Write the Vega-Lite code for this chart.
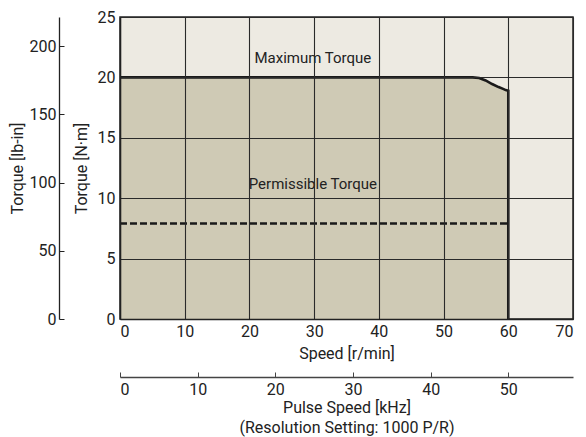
{
  "$schema": "https://vega.github.io/schema/vega-lite/v6.json",
  "width": 453,
  "height": 302,
  "autosize": {"type": "none"},
  "padding": {"left": 120, "top": 17, "right": 13, "bottom": 118},
  "background": "white",
  "config": {
    "font": "Roboto",
    "view": {"fill": "#EDEAE2", "stroke": "#222222", "strokeWidth": 1.5},
    "axis": {"labelFont": "Roboto", "titleFont": "Roboto", "labelFontSize": 16, "titleFontSize": 16, "titleFontWeight": "normal", "labelColor": "#222", "titleColor": "#222"}
  },
  "datasets": {
    "maxTorque": [
      {"speed": 0, "torque": 20},
      {"speed": 54.5, "torque": 20},
      {"speed": 55.5, "torque": 19.95},
      {"speed": 56.5, "torque": 19.75},
      {"speed": 57.5, "torque": 19.45},
      {"speed": 58.5, "torque": 19.2},
      {"speed": 59.2, "torque": 19.05},
      {"speed": 59.6, "torque": 18.95},
      {"speed": 60, "torque": 18.9},
      {"speed": 60, "torque": 0}
    ],
    "permissible": [
      {"speed": 0, "torque": 7.9},
      {"speed": 60, "torque": 7.9}
    ],
    "labels": [
      {"speed": 29.8, "torque": 21.6, "label": "Maximum Torque"},
      {"speed": 29.8, "torque": 11.2, "label": "Permissible Torque"}
    ],
    "pulse": [{"pulse": 0}, {"pulse": 58.333}],
    "lbin": [{"lbin": 0}, {"lbin": 221.27}]
  },
  "layer": [
    {
      "layer": [
        {
          "data": {"name": "maxTorque"},
          "mark": {"type": "area", "color": "#CFCAB5", "opacity": 1},
          "encoding": {
            "x": {"field": "speed", "type": "quantitative", "scale": {"domain": [0, 70], "nice": false},
              "axis": {"values": [0, 10, 20, 30, 40, 50, 60, 70], "grid": true, "gridColor": "#2a2a2a", "gridWidth": 1.1, "ticks": false, "domain": true, "domainColor": "#222", "domainWidth": 1.5, "labelPadding": 4, "title": "Speed [r/min]", "titlePadding": 6, "zindex": 1}},
            "y": {"field": "torque", "type": "quantitative", "scale": {"domain": [0, 25], "nice": false},
              "axis": {"values": [0, 5, 10, 15, 20, 25], "grid": true, "gridColor": "#2a2a2a", "gridWidth": 1.1, "ticks": false, "domain": true, "domainColor": "#222", "domainWidth": 1.5, "labelPadding": 5, "title": "Torque [N·m]", "titlePadding": 8, "zindex": 1}}
          }
        },
        {
          "data": {"name": "maxTorque"},
          "mark": {"type": "line", "color": "#1a1a1a", "strokeWidth": 2.6},
          "encoding": {
            "x": {"field": "speed", "type": "quantitative"},
            "y": {"field": "torque", "type": "quantitative"}
          }
        },
        {
          "data": {"name": "permissible"},
          "mark": {"type": "line", "color": "#1a1a1a", "strokeWidth": 2.6, "strokeDash": [7, 3]},
          "encoding": {
            "x": {"field": "speed", "type": "quantitative"},
            "y": {"field": "torque", "type": "quantitative"}
          }
        },
        {
          "data": {"name": "labels"},
          "mark": {"type": "text", "fontSize": 15, "color": "#222", "font": "Roboto"},
          "encoding": {
            "x": {"field": "speed", "type": "quantitative"},
            "y": {"field": "torque", "type": "quantitative"},
            "text": {"field": "label"}
          }
        }
      ]
    },
    {
      "data": {"name": "pulse"},
      "mark": {"type": "point", "opacity": 0},
      "encoding": {
        "x": {"field": "pulse", "type": "quantitative", "scale": {"domain": [0, 58.333], "nice": false},
          "axis": {"orient": "bottom", "offset": 58, "values": [0, 10, 20, 30, 40, 50], "grid": false, "tickSize": -5, "tickColor": "#444", "domainColor": "#444", "domainWidth": 1.3, "labelPadding": 9, "title": ["Pulse Speed [kHz]", "(Resolution Setting: 1000 P/R)"], "titlePadding": 2, "titleLineHeight": 20}}
      }
    },
    {
      "data": {"name": "lbin"},
      "mark": {"type": "point", "opacity": 0},
      "encoding": {
        "y": {"field": "lbin", "type": "quantitative", "scale": {"domain": [0, 221.27], "nice": false},
          "axis": {"orient": "left", "offset": 61, "values": [0, 50, 100, 150, 200], "grid": false, "tickSize": -5, "tickColor": "#222", "domainColor": "#222", "domainWidth": 1.3, "labelPadding": 8, "title": "Torque [lb-in]", "titlePadding": 4}}
      }
    }
  ],
  "resolve": {"scale": {"x": "independent", "y": "independent"}, "axis": {"x": "independent", "y": "independent"}}
}
